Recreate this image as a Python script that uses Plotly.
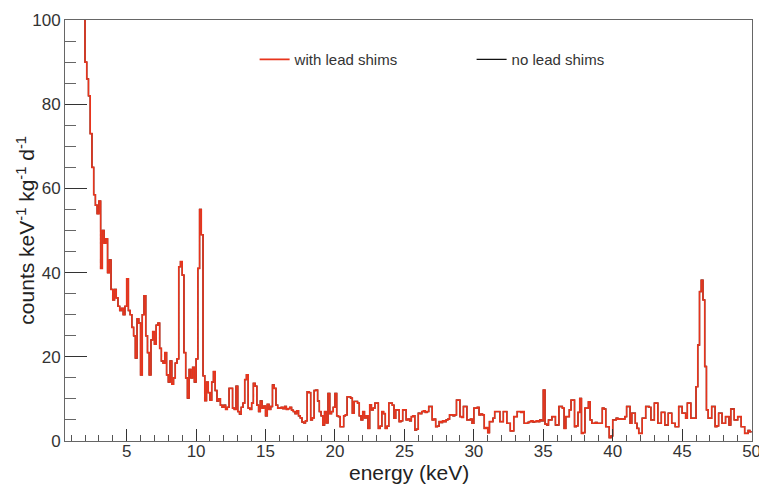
import plotly.graph_objects as go

# Histogram binning (keV)
energy_start = 1.875
bin_width = 0.125

# counts keV^-1 kg^-1 d^-1, one value per 0.125 keV bin, starting at 1.875 keV
with_lead = [
    110,
    90, 86, 82, 73, 65, 58.5, 56, 54,            # 2 keV
    57, 41, 50, 47, 48, 40, 43, 36,              # 3
    33.5, 36, 34, 32, 31, 31.5, 30, 32,          # 4
    38.5, 31, 30, 27, 25, 19.7, 29, 28,          # 5
    15.7, 30, 34.5, 25, 21, 15.7, 24, 26,        # 6
    23, 27.5, 28, 22, 19, 18.5, 21, 15.7,        # 7
    14, 19, 13.5, 15, 18.5, 19.5, 41.4, 42.6,    # 8
    39.4, 21, 15, 10.2, 17, 15, 17.5, 14,        # 9
    19.5, 41, 55, 49, 15.5, 9.6, 14, 11.5,       # 10
    9.7, 14, 16.5, 12, 9.5, 10, 8.5, 8,          # 11
    8.5, 7.5, 8, 12.5, 12.5, 7.8, 7.5, 13,       # 12
    7, 6.4, 8, 9, 14.6, 15.7, 7.8, 7.5,          # 13
    9, 13.7, 13, 8.5, 7, 9.5, 7.8, 8.3,          # 14
    6, 8.7, 7.5, 8.2, 13.3, 12.5, 8.5, 7.8,      # 15
    7.8, 8, 7.7, 8.2, 7.5, 7.7, 8, 7.3,          # 16
    7, 6.5, 7.2, 6, 5.5, 4.5, 4.3, 4.8,          # 17
    11.7, 11.5, 5, 5.5, 12, 12.1, 9.5, 7,        # 18
    6, 3.8, 7, 4.3, 11.3, 6.5, 7, 8,             # 19
    11.3, 6, 5.8, 3.4, 3.4, 6, 6.2, 10.5,        # 20
    10.5, 10.2, 6.6, 9.4, 9.4, 9, 6, 5,          # 21
    7, 5.5, 6, 3, 8.6, 7.4, 7.8, 9,              # 22
    9, 3, 3.5, 7, 6.5, 3, 3.5, 9,                # 23
    9, 8.5, 5.4, 7.4, 7.4, 4.6, 4.8, 7.4,        # 24
    7.4, 5, 5.2, 4.8, 5.8, 6, 2.6, 2.8,          # 25
    6.6, 6.5, 7, 7.2, 6.8, 7, 8.2, 8.2,          # 26
    5, 5.2, 3.4, 3.5, 4.6, 4.4, 4.8, 4.6,        # 27
    5, 5.2, 6.2, 6.2, 6, 6.2, 9.7, 9.7,          # 28
    5.8, 5.6, 8.2, 8.2, 5, 5, 5.2, 4.2,          # 29
    7.8, 7.8, 8, 6.2, 6.4, 6.2, 3.0, 3.2,        # 30
    2, 4.6, 4.6, 5.4, 7, 7, 7, 4.6,              # 31
    4.6, 7, 7, 4.2, 4.2, 2.4, 2.4, 5.8,          # 32
    5.8, 7, 7, 6.8, 7, 4.2, 4.2, 4.4,            # 33
    4.6, 4.8, 4.5, 4.6, 4.8, 4.6, 5, 4.8,        # 34
    12.1, 4, 3.8, 5, 5, 5.8, 5.8, 3.8,           # 35
    3.8, 8.2, 8.2, 7.8, 3, 5.8, 5.8, 7.4,        # 36
    9.7, 9.7, 3.4, 3.6, 6.8, 10.1, 1.8, 2,       # 37
    7.8, 7.8, 9.3, 5, 4.2, 4.2, 4.4, 4.2,        # 38
    4.2, 4.2, 7.8, 7.6, 3.4, 3.4, 0.8, 1.2,      # 39
    5, 5, 5.4, 5.2, 5.3, 5.2, 5.2, 5.8,          # 40
    8.2, 8.2, 4.2, 6.6, 6.6, 4.2, 3, 1.8,        # 41
    1.8, 5.4, 5.4, 8.2, 8.2, 8, 5, 5,            # 42
    9, 9, 4.2, 4.2, 6.8, 6.8, 3.8, 3.8,          # 43
    6.6, 6.6, 4.2, 4.2, 3.4, 3.4, 8.2, 8.2,      # 44
    6.6, 6.6, 5.4, 9, 9, 5.4, 5.4, 5.4,          # 45
    12.9, 22.8, 35.5, 38.2, 33.5, 17.7, 7.4, 5.4,  # 46
    5.4, 8.2, 8.2, 3.4, 3.6, 6.6, 6.6, 4.2,      # 47
    4.2, 5.8, 5.8, 3.8, 7.6, 7.6, 5, 5,          # 48
    5.8, 5.8, 3.4, 3.4, 1.8, 1.8, 2.5, 2.2,      # 49
]

# The "no lead shims" spectrum is indistinguishable from (and hidden under) the red one
no_lead = list(with_lead)

series_names = ["with lead shims", "no lead shims"]
x_ticks = [5, 10, 15, 20, 25, 30, 35, 40, 45, 50]
y_ticks = [0, 20, 40, 60, 80, 100]
x_title = "energy (keV)"
y_title = "counts keV<sup>-1</sup> kg<sup>-1</sup> d<sup>-1</sup>"


def step_xy(vals):
    n = len(vals)
    edges = [energy_start + bin_width * i for i in range(n + 1)]
    ys = list(vals) + [vals[-1]]
    return edges, ys


fig = go.Figure()

xb, yb = step_xy(no_lead)
fig.add_trace(go.Scatter(x=xb, y=yb, mode="lines", line_shape="hv",
                         line=dict(color="#111111", width=1.3),
                         name=series_names[1], legendrank=2))
xr, yr = step_xy(with_lead)
fig.add_trace(go.Scatter(x=xr, y=yr, mode="lines", line_shape="hv",
                         line=dict(color="#e8341c", width=1.6),
                         name=series_names[0], legendrank=1))

font_family = "Liberation Sans, Arial, Helvetica, sans-serif"

fig.update_layout(
    width=759, height=488,
    margin=dict(l=65, r=7, t=20, b=47, autoexpand=False),
    paper_bgcolor="white", plot_bgcolor="white",
    font=dict(family=font_family, color="#333333"),
    showlegend=True,
    legend=dict(orientation="h", x=0.276, y=0.945, xanchor="left", yanchor="top",
                entrywidth=172, entrywidthmode="pixels",
                font=dict(size=15, color="#333333"),
                bgcolor="rgba(0,0,0,0)", itemwidth=30),
    xaxis=dict(
        range=[0.56, 50.03], tickvals=x_ticks, ticktext=[str(v) for v in x_ticks],
        ticks="inside", ticklen=12, tickwidth=1, tickcolor="#333333",
        minor=dict(dtick=1, tick0=0, ticks="inside", ticklen=6, tickcolor="#555555"),
        showline=True, linecolor="#666666", linewidth=1, mirror=True,
        showgrid=False, zeroline=False, ticklabeloverflow="allow",
        ticklabelstandoff=-5,
        tickfont=dict(size=17, color="#333333"),
    ),
    yaxis=dict(
        range=[0, 100], tickvals=y_ticks, ticktext=[str(v) for v in y_ticks],
        ticks="inside", ticklen=22, tickwidth=1, tickcolor="#333333",
        minor=dict(dtick=5, tick0=0, ticks="inside", ticklen=11, tickcolor="#666666"),
        showline=True, linecolor="#666666", linewidth=1, mirror=True,
        showgrid=False, zeroline=False,
        tickfont=dict(size=17, color="#333333"),
    ),
    annotations=[
        dict(text=y_title, textangle=-90, xref="paper", yref="paper",
             x=-0.058, y=0.5, xanchor="center", yanchor="middle", showarrow=False,
             font=dict(size=21, color="#222222", family=font_family)),
        dict(text=x_title, xref="paper", yref="paper",
             x=0.5, y=-0.076, xanchor="center", yanchor="middle", showarrow=False,
             font=dict(size=21, color="#222222", family=font_family)),
    ],
)

fig.write_html("out.html")
